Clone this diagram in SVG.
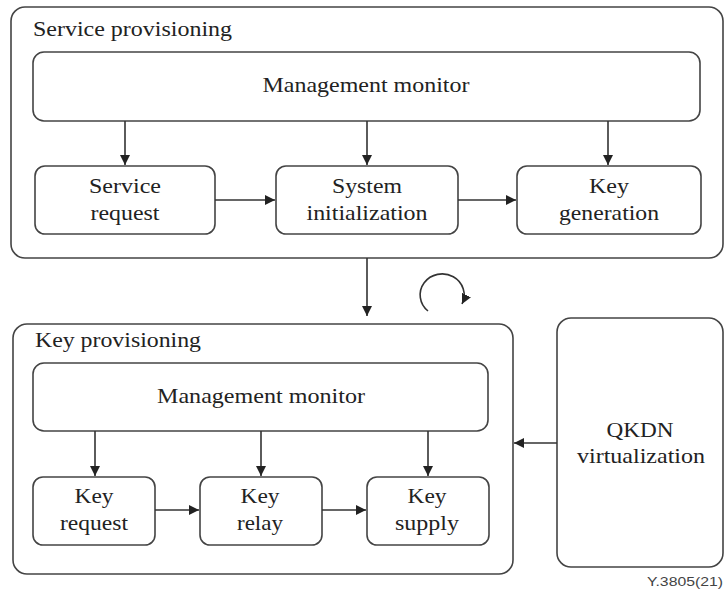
<svg xmlns="http://www.w3.org/2000/svg" width="725" height="591" viewBox="0 0 725 591">
<defs>
<style>
.box{fill:#fff;stroke:#444;stroke-width:1.6}
.t{font-family:"Liberation Serif","Times New Roman",serif;font-size:21px;fill:#222}
.c{text-anchor:middle}
.ln{stroke:#333;stroke-width:1.6;fill:none}
</style>
<marker id="ah" viewBox="0 0 10 10" refX="10" refY="5" markerWidth="10" markerHeight="10" markerUnits="userSpaceOnUse" orient="auto">
<path d="M0,0 L10,5 L0,10 Z" fill="#222"/>
</marker>
</defs>
<rect width="725" height="591" fill="#fff"/>
<g id="service-provisioning">
<rect class="box" x="11" y="7" width="712" height="251" rx="14"/>
<text class="t" x="33" y="36" textLength="199" lengthAdjust="spacingAndGlyphs">Service provisioning</text>
</g>
<g id="sp-monitor">
<rect class="box" x="33" y="52" width="667" height="69" rx="11"/>
<text class="t c" x="366" y="92" textLength="207" lengthAdjust="spacingAndGlyphs">Management monitor</text>
</g>
<g id="service-request">
<rect class="box" x="35" y="166" width="180" height="68" rx="10"/>
<text class="t c" x="125" y="193" textLength="72" lengthAdjust="spacingAndGlyphs">Service</text>
<text class="t c" x="125" y="220" textLength="69" lengthAdjust="spacingAndGlyphs">request</text>
</g>
<g id="system-init">
<rect class="box" x="276" y="166" width="182" height="68" rx="10"/>
<text class="t c" x="367" y="193" textLength="70" lengthAdjust="spacingAndGlyphs">System</text>
<text class="t c" x="367" y="220" textLength="121" lengthAdjust="spacingAndGlyphs">initialization</text>
</g>
<g id="key-generation">
<rect class="box" x="517" y="166" width="184" height="68" rx="10"/>
<text class="t c" x="609" y="193" textLength="40" lengthAdjust="spacingAndGlyphs">Key</text>
<text class="t c" x="609" y="220" textLength="100" lengthAdjust="spacingAndGlyphs">generation</text>
</g>
<g id="key-provisioning">
<rect class="box" x="13" y="324" width="500" height="250" rx="14"/>
<text class="t" x="35" y="347" textLength="166" lengthAdjust="spacingAndGlyphs">Key provisioning</text>
</g>
<g id="kp-monitor">
<rect class="box" x="33" y="363" width="455" height="68" rx="11"/>
<text class="t c" x="261" y="403" textLength="208" lengthAdjust="spacingAndGlyphs">Management monitor</text>
</g>
<g id="key-request">
<rect class="box" x="33" y="477" width="122" height="68" rx="10"/>
<text class="t c" x="94" y="503" textLength="39" lengthAdjust="spacingAndGlyphs">Key</text>
<text class="t c" x="94" y="530" textLength="68" lengthAdjust="spacingAndGlyphs">request</text>
</g>
<g id="key-relay">
<rect class="box" x="200" y="477" width="122" height="68" rx="10"/>
<text class="t c" x="260" y="503" textLength="39" lengthAdjust="spacingAndGlyphs">Key</text>
<text class="t c" x="260" y="530" textLength="46" lengthAdjust="spacingAndGlyphs">relay</text>
</g>
<g id="key-supply">
<rect class="box" x="367" y="477" width="122" height="68" rx="10"/>
<text class="t c" x="427" y="503" textLength="39" lengthAdjust="spacingAndGlyphs">Key</text>
<text class="t c" x="427" y="530" textLength="64" lengthAdjust="spacingAndGlyphs">supply</text>
</g>
<g id="qkdn-virtualization">
<rect class="box" x="557" y="318" width="166" height="249" rx="14"/>
<text class="t c" x="640" y="437" textLength="67" lengthAdjust="spacingAndGlyphs">QKDN</text>
<text class="t c" x="641" y="463" textLength="128" lengthAdjust="spacingAndGlyphs">virtualization</text>
</g>
<g id="connectors">
<line class="ln" x1="125" y1="121" x2="125" y2="165" marker-end="url(#ah)"/>
<line class="ln" x1="367" y1="121" x2="367" y2="165" marker-end="url(#ah)"/>
<line class="ln" x1="608" y1="121" x2="608" y2="165" marker-end="url(#ah)"/>
<line class="ln" x1="215" y1="200" x2="275" y2="200" marker-end="url(#ah)"/>
<line class="ln" x1="458" y1="200" x2="516" y2="200" marker-end="url(#ah)"/>
<line class="ln" x1="367" y1="258" x2="367" y2="316" marker-end="url(#ah)"/>
<path class="ln" d="M428,311 A22,21 0 1 1 462,304" marker-end="url(#ah)"/>
<line class="ln" x1="95" y1="431" x2="95" y2="476" marker-end="url(#ah)"/>
<line class="ln" x1="261" y1="431" x2="261" y2="476" marker-end="url(#ah)"/>
<line class="ln" x1="428" y1="431" x2="428" y2="476" marker-end="url(#ah)"/>
<line class="ln" x1="155" y1="510" x2="199" y2="510" marker-end="url(#ah)"/>
<line class="ln" x1="322" y1="510" x2="366" y2="510" marker-end="url(#ah)"/>
<line class="ln" x1="557" y1="443" x2="514" y2="443" marker-end="url(#ah)"/>
</g>
<text x="723" y="586" text-anchor="end" textLength="76" lengthAdjust="spacingAndGlyphs" style="font-family:'Liberation Sans',Arial,sans-serif;font-size:13px;fill:#444">Y.3805(21)</text>
</svg>
